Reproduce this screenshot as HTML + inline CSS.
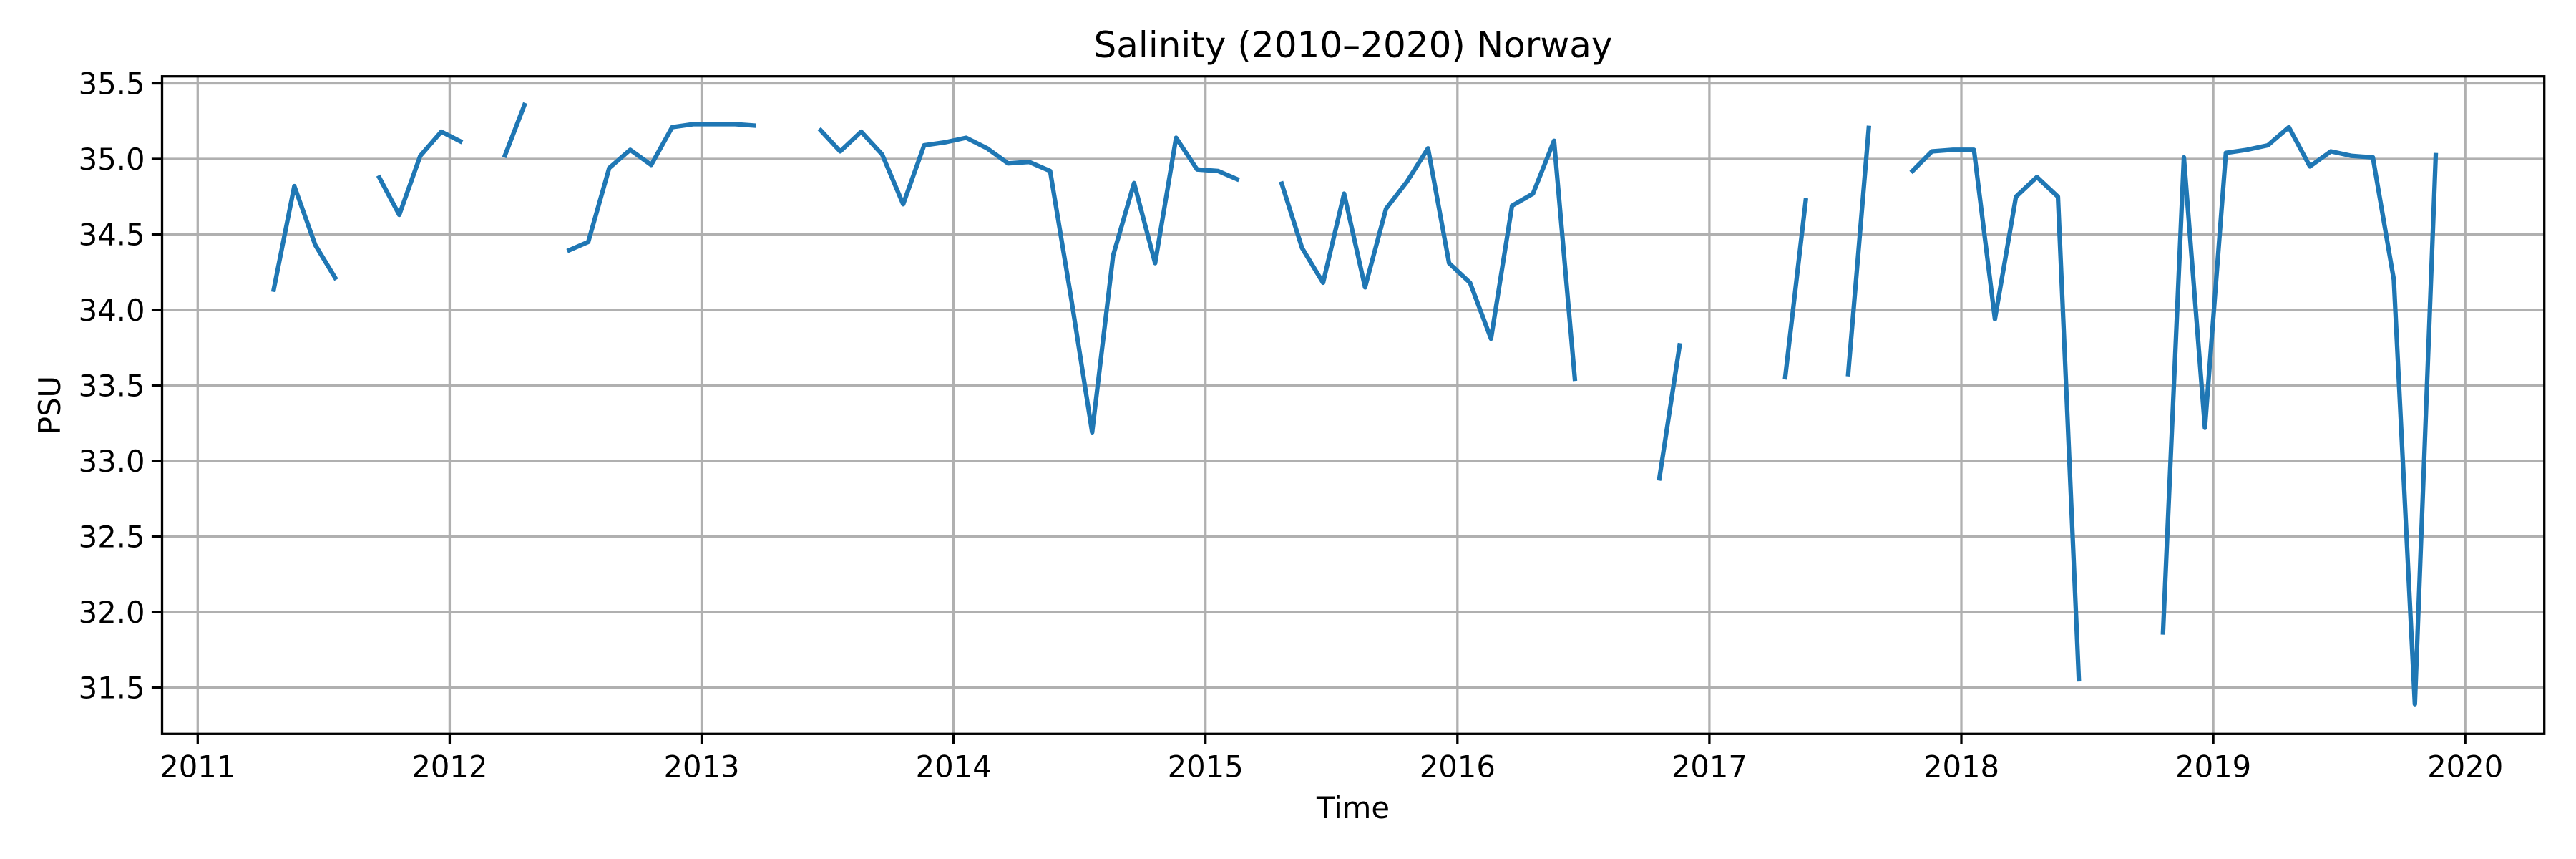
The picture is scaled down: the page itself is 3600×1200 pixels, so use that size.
<!DOCTYPE html>
<html><head><meta charset="utf-8"><style>
html,body{margin:0;padding:0;background:#fff}
svg{display:block}
text{font-family:"DejaVu Sans","Liberation Sans",sans-serif;fill:#000}
</style></head><body>
<svg id="chart" width="3600" height="1200" viewBox="0 0 3600 1200" xmlns="http://www.w3.org/2000/svg">
<rect x="0" y="0" width="3600" height="1200" fill="#fff"/>
<g id="grid"></g>
<g id="series"></g>
<rect x="226.5" y="106.7" width="3329.2" height="918.6" fill="none" stroke="#000" stroke-width="3.3"/>
<g id="xticks"></g>
<g id="yticks"></g>
<text x="1891" y="80" font-size="50" text-anchor="middle">Salinity (2010–2020) Norway</text>
<text x="1891" y="1143" font-size="41.7" text-anchor="middle">Time</text>
<text x="84" y="566" font-size="41.7" text-anchor="middle" transform="rotate(-90 84 566)">PSU</text>
</svg>
<script>
const months = ["2011-04","2011-05","2011-06","2011-07",
"2011-09","2011-10","2011-11","2011-12","2012-01",
"2012-03","2012-04",
"2012-06","2012-07","2012-08","2012-09","2012-10","2012-11","2012-12","2013-01","2013-02","2013-03",
"2013-06","2013-07","2013-08","2013-09","2013-10","2013-11","2013-12","2014-01","2014-02","2014-03","2014-04","2014-05","2014-06","2014-07","2014-08","2014-09","2014-10","2014-11","2014-12","2015-01","2015-02",
"2015-04","2015-05","2015-06","2015-07","2015-08","2015-09","2015-10","2015-11","2015-12","2016-01","2016-02","2016-03","2016-04","2016-05","2016-06",
"2016-10","2016-11",
"2017-04","2017-05",
"2017-07","2017-08",
"2017-10","2017-11","2017-12","2018-01","2018-02","2018-03","2018-04","2018-05","2018-06",
"2018-10","2018-11","2018-12","2019-01","2019-02","2019-03","2019-04","2019-05","2019-06","2019-07","2019-08","2019-09","2019-10","2019-11"];
const salinity = [34.12,34.82,34.43,34.20,
34.89,34.63,35.02,35.18,35.11,
35.01,35.37,
34.39,34.45,34.94,35.06,34.96,35.21,35.23,35.23,35.23,35.22,
35.20,35.05,35.18,35.03,34.70,35.09,35.11,35.14,35.07,34.97,34.98,34.92,34.08,33.19,34.36,34.84,34.31,35.14,34.93,34.92,34.86,
34.85,34.41,34.18,34.77,34.15,34.67,34.85,35.07,34.31,34.18,33.81,34.69,34.77,35.12,33.53,
32.87,33.78,
33.54,34.74,
33.56,35.22,
34.91,35.05,35.06,35.06,33.94,34.75,34.88,34.75,31.54,
31.85,35.01,33.22,35.04,35.06,35.09,35.21,34.95,35.05,35.02,35.01,34.20,31.39,35.04];
const xTickLabels = ["2011","2012","2013","2014","2015","2016","2017","2018","2019","2020"];
const yTickLabels = ["31.5","32.0","32.5","33.0","33.5","34.0","34.5","35.0","35.5"];

const NS="http://www.w3.org/2000/svg";
const L=226.5,R=3555.7,T=106.7,B=1025.3;
function xScale(year){return 276.3+(year-2011)*352.1;}
function yScale(v){return 222+(35-v)*211;}
function monthIndex(s){const p=s.split("-");return (+p[0])*12+(+p[1]-1);}
function monthToYear(s){return monthIndex(s)/12+0.6/12;}
function mk(tag,attrs,parent){const e=document.createElementNS(NS,tag);for(const k in attrs)e.setAttribute(k,attrs[k]);parent.appendChild(e);return e;}

const grid=document.getElementById('grid'),xt=document.getElementById('xticks'),yt=document.getElementById('yticks'),ser=document.getElementById('series');
xTickLabels.forEach(lab=>{
  const x=xScale(+lab);
  const g=mk('line',{x1:x,x2:x,y1:T,y2:B,stroke:'#b0b0b0','stroke-width':3.3},grid);
  
  
  const t=mk('line',{x1:x,x2:x,y1:B,y2:B+14.6,stroke:'#000','stroke-width':3.3},xt);
  
  
  const tx=mk('text',{x:x,y:B+60,'font-size':41.7,'text-anchor':'middle'},xt);
  tx.textContent=lab;
  
  
});
yTickLabels.forEach(lab=>{
  const y=yScale(+lab);
  const g=mk('line',{x1:L,x2:R,y1:y,y2:y,stroke:'#b0b0b0','stroke-width':3.3},grid);
  
  
  const t=mk('line',{x1:L-14.6,x2:L,y1:y,y2:y,stroke:'#000','stroke-width':3.3},yt);
  
  
  const tx=mk('text',{x:L-24,y:y+15,'font-size':41.7,'text-anchor':'end'},yt);
  tx.textContent=lab;
  
  
});
let segs=[],cur=[];
months.forEach((m,i)=>{
  if(cur.length && monthIndex(m)-monthIndex(months[i-1])>1){segs.push(cur);cur=[];}
  if(salinity[i]!=null) cur.push([xScale(monthToYear(m)),yScale(salinity[i])]);
});
if(cur.length)segs.push(cur);
segs.forEach((s,k)=>{
  const p=mk('polyline',{points:s.map(q=>q[0].toFixed(1)+','+q[1].toFixed(1)).join(' '),fill:'none',stroke:'#1f77b4','stroke-width':6.25,'stroke-linejoin':'round','stroke-linecap':'butt'},ser);
  
  
});
</script>
</body></html>
